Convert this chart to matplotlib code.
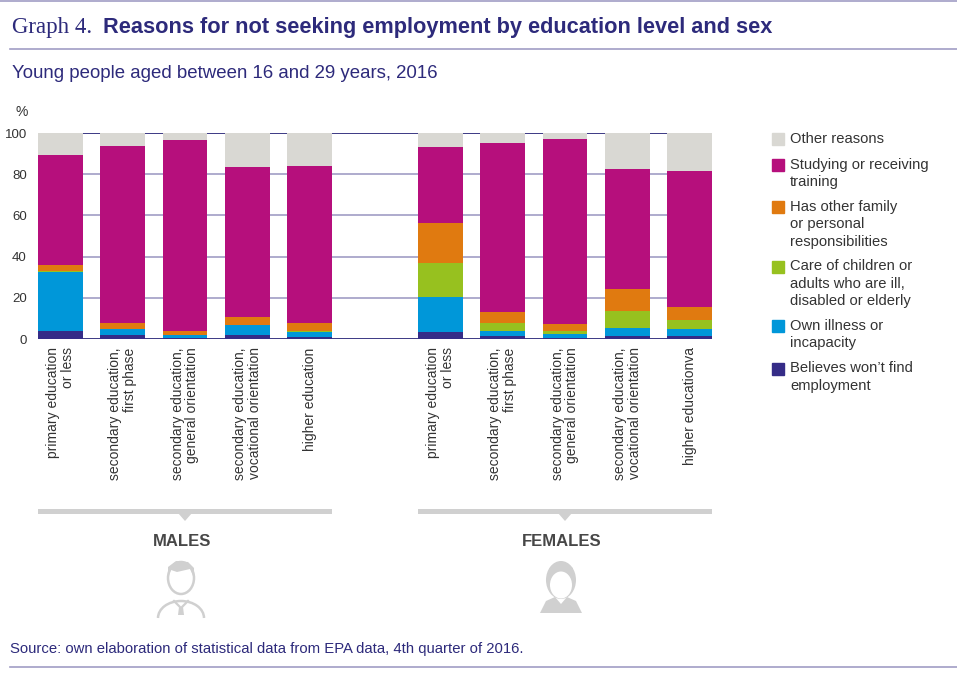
"""Reasons for not seeking employment by education level and sex."""

import matplotlib.pyplot as plt
import matplotlib.transforms as mtransforms
from matplotlib.patches import Rectangle, Polygon, Ellipse, Arc
import numpy as np

# categories on the x-axis
males_categories = [
    "primary education\nor less",
    "secondary education,\nfirst phase",
    "secondary education,\ngeneral orientation",
    "secondary education,\nvocational orientation",
    "higher education",
]
females_categories = [
    "primary education\nor less",
    "secondary education,\nfirst phase",
    "secondary education,\ngeneral orientation",
    "secondary education,\nvocational orientation",
    "higher educationva",
]

# stacked shares (%) from the bottom up
males_believes = [3.7, 1.8, 0.6, 1.9, 0.8]
males_illness = [28.7, 3.1, 1.3, 4.7, 2.6]
males_care = [0.5, 0.0, 0.0, 0.0, 0.3]
males_family = [3.0, 3.0, 2.1, 4.2, 3.9]
males_studying = [53.4, 85.8, 92.6, 72.9, 76.4]
males_other = [10.7, 6.3, 3.4, 16.3, 16.0]

females_believes = [3.2, 1.3, 0.5, 1.5, 1.5]
females_illness = [17.2, 2.7, 1.9, 4.0, 3.5]
females_care = [16.7, 3.9, 1.6, 8.3, 4.1]
females_family = [19.4, 5.4, 3.4, 10.6, 6.4]
females_studying = [36.9, 81.7, 89.7, 58.1, 65.9]
females_other = [6.6, 5.0, 2.9, 17.5, 18.6]

series_labels = [
    "Believes won’t find\nemployment",
    "Own illness or\nincapacity",
    "Care of children or\nadults who are ill,\ndisabled or elderly",
    "Has other family\nor personal\nresponsibilities",
    "Studying or receiving\ntraining",
    "Other reasons",
]
series_colors = ["#352c87", "#0097d9", "#97c11f", "#e07a10", "#b60f7c", "#d9d8d3"]

yticks = [0, 20, 40, 60, 80, 100]

NAVY = "#2d2a7b"
RULE = "#a19dc5"
TEXT = "#333333"
ICON = "#d0d0d0"

plt.rcParams["font.family"] = ["Liberation Sans", "DejaVu Sans"]

fig = plt.figure(figsize=(9.57, 6.73), dpi=100)

# overlay in pixel coordinates for decorations
deco = fig.add_axes([0, 0, 1, 1], zorder=0)
deco.set_xlim(0, 957)
deco.set_ylim(673, 0)
deco.axis("off")
deco.patch.set_alpha(0)

ax = fig.add_axes([38 / 957, 1 - 339 / 673, 674 / 957, 206 / 673], zorder=1)
ax.patch.set_alpha(0)

width = 0.72
x_m = np.arange(len(males_categories))
x_f = np.arange(len(females_categories)) + 6.1

males = [males_believes, males_illness, males_care, males_family, males_studying, males_other]
females = [females_believes, females_illness, females_care, females_family,
           females_studying, females_other]

for xs, group in ((x_m, males), (x_f, females)):
    bottom = np.zeros(len(xs))
    for vals, color in zip(group, series_colors):
        ax.bar(xs, vals, width, bottom=bottom, color=color, zorder=2, linewidth=0)
        bottom += np.array(vals)

for y in yticks:
    edge = y in (0, 100)
    ax.axhline(y, color=NAVY if edge else RULE, lw=1.3 if edge else 1.2, zorder=1)

ax.set_xlim(x_m[0] - width / 2, x_f[-1] + width / 2)
ax.set_ylim(0, 100)
ax.set_yticks(yticks)
ax.set_yticklabels([str(t) for t in yticks], fontsize=9.5, color=TEXT)
ax.set_xticks(np.concatenate([x_m, x_f]))
ax.set_xticklabels(males_categories + females_categories, rotation=90, fontsize=10,
                   color=TEXT, va="top", ha="center", multialignment="right",
                   linespacing=1.05)
ax.tick_params(length=0, pad=6)
ax.tick_params(axis="y", pad=8)
for side in ax.spines.values():
    side.set_visible(False)
ax.text(-0.033, 1.07, "%", transform=ax.transAxes, fontsize=10, color=TEXT,
        ha="left", va="bottom")

# header, rules and source
for y in (1, 49, 667):
    deco.plot([10 if y > 1 else 0, 957], [y, y], color=RULE, lw=1.2)
deco.text(12, 33, "Graph 4.", family=["Liberation Serif", "DejaVu Serif"], fontsize=16.5,
          color=NAVY, va="baseline")
deco.text(103, 33, "Reasons for not seeking employment by education level and sex",
          fontsize=15.7, fontweight="bold", color=NAVY, va="baseline")
deco.text(12, 78, "Young people aged between 16 and 29 years, 2016", fontsize=13.4,
          color=NAVY, va="baseline")
deco.text(10, 653, "Source: own elaboration of statistical data from EPA data, 4th quarter of 2016.",
          fontsize=10.7, color=NAVY, va="baseline")

# legend, top entry first
y_top = 133
for label, color in zip(series_labels[::-1], series_colors[::-1]):
    deco.add_patch(Rectangle((772, y_top), 12, 12, color=color))
    deco.text(790, y_top - 1, label, fontsize=10.6, color=TEXT, va="top",
              linespacing=1.3)
    y_top += 17 * (label.count("\n") + 1) + 8.5

# group brackets, labels and person icons
blend = mtransforms.blended_transform_factory(ax.transData, deco.transData)
for xs, name, female in ((x_m, "MALES", False), (x_f, "FEMALES", True)):
    x0, x1 = xs[0] - width / 2, xs[-1] + width / 2
    xc = (x0 + x1) / 2
    deco.add_patch(Rectangle((x0, 509), x1 - x0, 5, color=ICON, transform=blend, lw=0))
    px = blend.transform((xc, 0))[0]
    px = deco.transData.inverted().transform((px, 0))[0]
    deco.add_patch(Polygon([(px - 7, 513), (px + 7, 513), (px, 521)], color=ICON, lw=0))
    deco.text(px - 3, 541, name, fontsize=12, fontweight="bold", color="#474747",
              ha="center", va="center")

    # simple person glyph
    cx = px - 4
    if female:
        deco.add_patch(Ellipse((cx, 580), 30, 38, color=ICON, lw=0))
        deco.add_patch(Polygon([(cx - 21, 613), (cx - 15, 601), (cx - 6, 597),
                                (cx, 604), (cx + 6, 597), (cx + 15, 601), (cx + 21, 613)],
                               color=ICON, lw=0))
        deco.add_patch(Ellipse((cx, 585), 22, 27, color="white", lw=0))
        deco.add_patch(Polygon([(cx - 12, 582), (cx - 9, 571), (cx + 3, 569),
                                (cx + 12, 580), (cx + 12, 568), (cx, 563), (cx - 11, 568)],
                               color=ICON, lw=0))
    else:
        deco.add_patch(Ellipse((cx, 578), 26, 32, facecolor="white", edgecolor=ICON, lw=1.8))
        deco.add_patch(Polygon([(cx - 13, 578), (cx - 13, 567), (cx - 5, 561), (cx + 7, 562),
                                (cx + 13, 568), (cx + 13, 578), (cx + 9, 569), (cx - 4, 572),
                                (cx - 10, 570)],
                               color=ICON, lw=0))
        deco.add_patch(Arc((cx, 618), 46, 34, theta1=180, theta2=360, color=ICON, lw=1.8))
        deco.plot([cx - 7, cx, cx + 7], [601, 608, 601], color=ICON, lw=1.6)
        deco.add_patch(Polygon([(cx - 2, 607), (cx + 2, 607), (cx + 3, 615), (cx - 3, 615)],
                               color=ICON, lw=0))

fig.savefig("out.png", dpi=100)
